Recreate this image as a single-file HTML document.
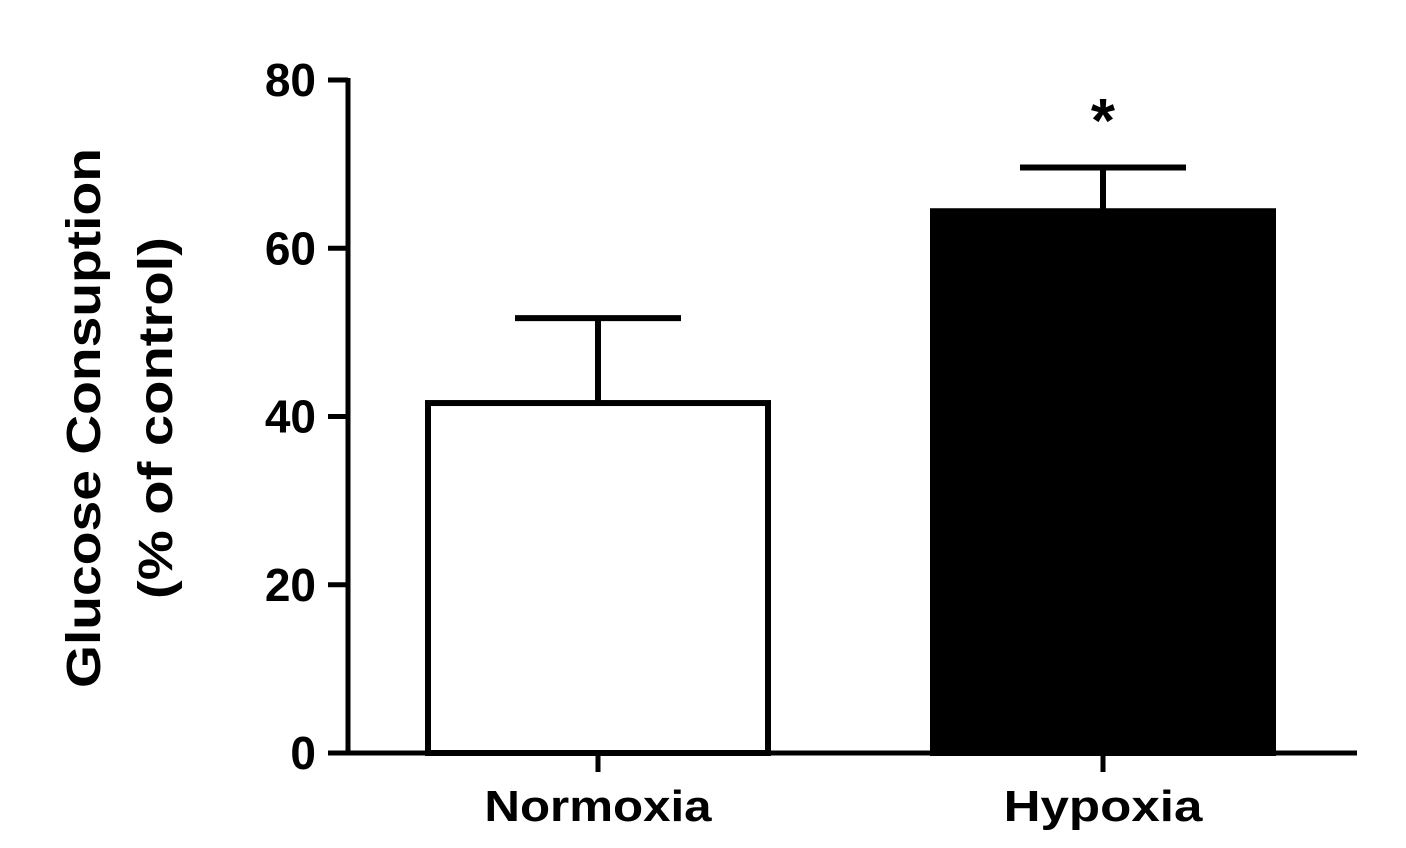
<!DOCTYPE html>
<html><head><meta charset="utf-8"><style>
body{margin:0;background:#fff;}
svg{display:block;font-family:"Liberation Sans",Arial,sans-serif;font-weight:bold;}
</style></head><body>
<svg id="chart" width="1406" height="848" viewBox="0 0 1406 848">
<g id="yTitle">
<text transform="translate(100,418) rotate(-90)" text-anchor="middle" font-size="48" textLength="540" lengthAdjust="spacingAndGlyphs">Glucose Consuption</text>
<text transform="translate(172,418) rotate(-90)" text-anchor="middle" font-size="48" textLength="362" lengthAdjust="spacingAndGlyphs">(% of control)</text>
</g>
<g id="marks"></g>
<g id="axes"></g>
</svg>
<script>
const categories=["Normoxia","Hypoxia"];
const means=[41.6,64.4];
const errors=[10.1,5.2];
const fills=["#fff","#000"];
const yTicks=[0,20,40,60,80];
const sig=["","*"];
const NS="http://www.w3.org/2000/svg";
const y0=753,y1=80,xL=348,xR=1357;
function y(v){return y0-(v/80)*(y0-y1);}
const centers=[598,1103],barW=340;
function x(i){return centers[i];}
function mk(tag,attrs,parent){const e=document.createElementNS(NS,tag);for(const k in attrs)e.setAttribute(k,attrs[k]);parent.appendChild(e);return e;}
const marks=document.getElementById('marks'),axes=document.getElementById('axes');
categories.forEach((c,i)=>{
 const cx=x(i);
 const eb=mk('line',{x1:cx,x2:cx,y1:y(means[i]),y2:y(means[i]+errors[i]),stroke:'#000','stroke-width':6},marks);
 
 
 const cap=mk('line',{x1:cx-83,x2:cx+83,y1:y(means[i]+errors[i]),y2:y(means[i]+errors[i]),stroke:'#000','stroke-width':6},marks);
 
 
 const r=mk('rect',{x:cx-barW/2,y:y(means[i]),width:barW,height:y0-y(means[i]),fill:fills[i],stroke:'#000','stroke-width':6},marks);
 
 
 const t=mk('text',{x:cx,y:821,'text-anchor':'middle','font-size':44,textLength:c.length*28.4,lengthAdjust:'spacingAndGlyphs'},axes);t.textContent=c;
 
 
 const tk=mk('line',{x1:cx,x2:cx,y1:y0,y2:772,stroke:'#000','stroke-width':5},axes);
 
 
 if(sig[i]){const s=mk('text',{x:cx,y:142,'text-anchor':'middle','font-size':62},marks);s.textContent=sig[i];
 
 }
});
yTicks.forEach(v=>{
 const tk=mk('line',{x1:328,x2:xL,y1:y(v),y2:y(v),stroke:'#000','stroke-width':5},axes);
 
 
 const t=mk('text',{x:316,y:y(v)+16,'text-anchor':'end','font-size':46},axes);t.textContent=v;
 
 
});
const ya=mk('line',{x1:xL,x2:xL,y1:y1-2,y2:y0+2,stroke:'#000','stroke-width':5},axes);


const xa=mk('line',{x1:xL-2,x2:xR,y1:y0,y2:y0,stroke:'#000','stroke-width':5},axes);


</script>
</body></html>
